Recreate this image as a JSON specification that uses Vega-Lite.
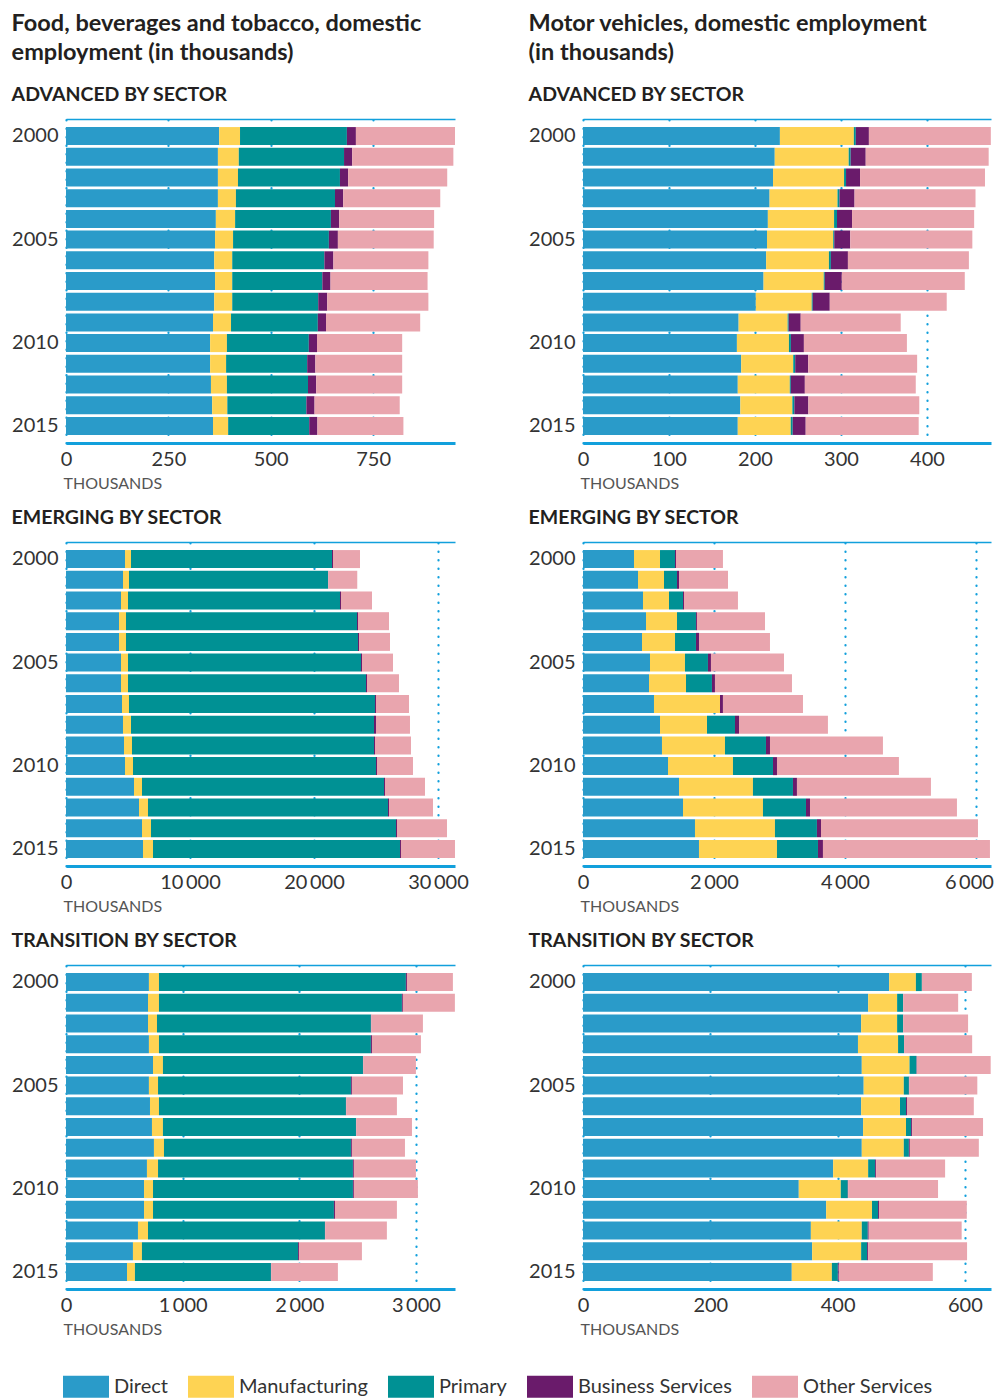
{
  "$schema": "https://vega.github.io/schema/vega-lite/v6.json",
  "background": "white",
  "padding": {"left": 11, "top": 12, "right": 0, "bottom": 0},
  "datasets": {
    "sectors": [
      {"sector": "Direct", "rank": 1},
      {"sector": "Manufacturing", "rank": 2},
      {"sector": "Primary", "rank": 3},
      {"sector": "Business Services", "rank": 4},
      {"sector": "Other Services", "rank": 5}
    ],
    "fa": [
      {"year": 2000, "Direct": 374, "Manufacturing": 51, "Primary": 261, "Business Services": 22, "Other Services": 242},
      {"year": 2001, "Direct": 371, "Manufacturing": 51, "Primary": 257, "Business Services": 20, "Other Services": 247},
      {"year": 2002, "Direct": 371, "Manufacturing": 49, "Primary": 249, "Business Services": 20, "Other Services": 242},
      {"year": 2003, "Direct": 371, "Manufacturing": 44, "Primary": 242, "Business Services": 20, "Other Services": 237},
      {"year": 2004, "Direct": 366, "Manufacturing": 47, "Primary": 234, "Business Services": 20, "Other Services": 232},
      {"year": 2005, "Direct": 364, "Manufacturing": 44, "Primary": 234, "Business Services": 22, "Other Services": 234},
      {"year": 2006, "Direct": 362, "Manufacturing": 44, "Primary": 225, "Business Services": 22, "Other Services": 232},
      {"year": 2007, "Direct": 364, "Manufacturing": 42, "Primary": 220, "Business Services": 20, "Other Services": 237},
      {"year": 2008, "Direct": 362, "Manufacturing": 44, "Primary": 210, "Business Services": 22, "Other Services": 247},
      {"year": 2009, "Direct": 359, "Manufacturing": 44, "Primary": 212, "Business Services": 20, "Other Services": 230},
      {"year": 2010, "Direct": 352, "Manufacturing": 41, "Primary": 200, "Business Services": 20, "Other Services": 208},
      {"year": 2011, "Direct": 352, "Manufacturing": 39, "Primary": 198, "Business Services": 20, "Other Services": 212},
      {"year": 2012, "Direct": 354, "Manufacturing": 39, "Primary": 198, "Business Services": 20, "Other Services": 210},
      {"year": 2013, "Direct": 357, "Manufacturing": 37, "Primary": 193, "Business Services": 20, "Other Services": 208},
      {"year": 2014, "Direct": 359, "Manufacturing": 37, "Primary": 198, "Business Services": 20, "Other Services": 210}
    ],
    "ma": [
      {"year": 2000, "Direct": 229, "Manufacturing": 86, "Primary": 2.3, "Business Services": 15.2, "Other Services": 141.8},
      {"year": 2001, "Direct": 223, "Manufacturing": 86, "Primary": 2.3, "Business Services": 17.5, "Other Services": 143},
      {"year": 2002, "Direct": 221, "Manufacturing": 82.6, "Primary": 2.3, "Business Services": 16.3, "Other Services": 145.3},
      {"year": 2003, "Direct": 217, "Manufacturing": 79, "Primary": 2.3, "Business Services": 17.5, "Other Services": 140.7},
      {"year": 2004, "Direct": 215, "Manufacturing": 77, "Primary": 3.4, "Business Services": 17.5, "Other Services": 142},
      {"year": 2005, "Direct": 214, "Manufacturing": 77, "Primary": 1.2, "Business Services": 18.6, "Other Services": 142},
      {"year": 2006, "Direct": 213, "Manufacturing": 73, "Primary": 2.3, "Business Services": 19.8, "Other Services": 140.7},
      {"year": 2007, "Direct": 210, "Manufacturing": 70, "Primary": 1.2, "Business Services": 19.8, "Other Services": 143},
      {"year": 2008, "Direct": 201, "Manufacturing": 65, "Primary": 1.2, "Business Services": 19.8, "Other Services": 136},
      {"year": 2009, "Direct": 181, "Manufacturing": 57, "Primary": 1.2, "Business Services": 14, "Other Services": 116.3},
      {"year": 2010, "Direct": 179, "Manufacturing": 60.5, "Primary": 2.3, "Business Services": 15.1, "Other Services": 119.8},
      {"year": 2011, "Direct": 184, "Manufacturing": 60.5, "Primary": 2.3, "Business Services": 15.1, "Other Services": 126.7},
      {"year": 2012, "Direct": 180, "Manufacturing": 60.5, "Primary": 1.2, "Business Services": 16.3, "Other Services": 129},
      {"year": 2013, "Direct": 183, "Manufacturing": 60.5, "Primary": 2.3, "Business Services": 16.3, "Other Services": 129},
      {"year": 2014, "Direct": 180, "Manufacturing": 61.6, "Primary": 2.3, "Business Services": 15.1, "Other Services": 131.4}
    ],
    "fe": [
      {"year": 2000, "Direct": 4758, "Manufacturing": 484, "Primary": 16210, "Business Services": 79, "Other Services": 2179},
      {"year": 2001, "Direct": 4597, "Manufacturing": 484, "Primary": 16048, "Business Services": 20, "Other Services": 2339},
      {"year": 2002, "Direct": 4435, "Manufacturing": 565, "Primary": 17096, "Business Services": 80, "Other Services": 2500},
      {"year": 2003, "Direct": 4274, "Manufacturing": 564, "Primary": 18629, "Business Services": 80, "Other Services": 2500},
      {"year": 2004, "Direct": 4274, "Manufacturing": 564, "Primary": 18709, "Business Services": 81, "Other Services": 2499},
      {"year": 2005, "Direct": 4435, "Manufacturing": 565, "Primary": 18789, "Business Services": 80, "Other Services": 2500},
      {"year": 2006, "Direct": 4435, "Manufacturing": 565, "Primary": 19192, "Business Services": 81, "Other Services": 2580},
      {"year": 2007, "Direct": 4516, "Manufacturing": 564, "Primary": 19838, "Business Services": 80, "Other Services": 2662},
      {"year": 2008, "Direct": 4596, "Manufacturing": 646, "Primary": 19595, "Business Services": 161, "Other Services": 2742},
      {"year": 2009, "Direct": 4677, "Manufacturing": 645, "Primary": 19515, "Business Services": 81, "Other Services": 2903},
      {"year": 2010, "Direct": 4758, "Manufacturing": 645, "Primary": 19595, "Business Services": 81, "Other Services": 2903},
      {"year": 2011, "Direct": 5484, "Manufacturing": 645, "Primary": 19515, "Business Services": 80, "Other Services": 3226},
      {"year": 2012, "Direct": 5887, "Manufacturing": 725, "Primary": 19354, "Business Services": 81, "Other Services": 3548},
      {"year": 2013, "Direct": 6129, "Manufacturing": 725, "Primary": 19757, "Business Services": 81, "Other Services": 4032},
      {"year": 2014, "Direct": 6209, "Manufacturing": 807, "Primary": 19918, "Business Services": 80, "Other Services": 4355}
    ],
    "me": [
      {"year": 2000, "Direct": 779, "Manufacturing": 397, "Primary": 229, "Business Services": 15, "Other Services": 717},
      {"year": 2001, "Direct": 840, "Manufacturing": 397, "Primary": 198, "Business Services": 31, "Other Services": 748},
      {"year": 2002, "Direct": 916, "Manufacturing": 397, "Primary": 214, "Business Services": 15, "Other Services": 824},
      {"year": 2003, "Direct": 962, "Manufacturing": 473, "Primary": 290, "Business Services": 15, "Other Services": 1039},
      {"year": 2004, "Direct": 901, "Manufacturing": 504, "Primary": 320, "Business Services": 46, "Other Services": 1084},
      {"year": 2005, "Direct": 1023, "Manufacturing": 534, "Primary": 351, "Business Services": 46, "Other Services": 1115},
      {"year": 2006, "Direct": 1008, "Manufacturing": 565, "Primary": 396, "Business Services": 46, "Other Services": 1176},
      {"year": 2007, "Direct": 1084, "Manufacturing": 1008, "Primary": 0, "Business Services": 45, "Other Services": 1222},
      {"year": 2008, "Direct": 1176, "Manufacturing": 717, "Primary": 428, "Business Services": 61, "Other Services": 1358},
      {"year": 2009, "Direct": 1206, "Manufacturing": 962, "Primary": 626, "Business Services": 61, "Other Services": 1725},
      {"year": 2010, "Direct": 1298, "Manufacturing": 992, "Primary": 611, "Business Services": 61, "Other Services": 1862},
      {"year": 2011, "Direct": 1466, "Manufacturing": 1129, "Primary": 611, "Business Services": 61, "Other Services": 2046},
      {"year": 2012, "Direct": 1527, "Manufacturing": 1221, "Primary": 657, "Business Services": 61, "Other Services": 2244},
      {"year": 2013, "Direct": 1710, "Manufacturing": 1221, "Primary": 641, "Business Services": 62, "Other Services": 2397},
      {"year": 2014, "Direct": 1771, "Manufacturing": 1191, "Primary": 626, "Business Services": 76, "Other Services": 2550}
    ],
    "ft": [
      {"year": 2000, "Direct": 711, "Manufacturing": 86, "Primary": 2117, "Business Services": 9, "Other Services": 394},
      {"year": 2001, "Direct": 703, "Manufacturing": 94, "Primary": 2083, "Business Services": 8, "Other Services": 446},
      {"year": 2002, "Direct": 703, "Manufacturing": 77, "Primary": 1834, "Business Services": 3, "Other Services": 443},
      {"year": 2003, "Direct": 711, "Manufacturing": 86, "Primary": 1817, "Business Services": 9, "Other Services": 420},
      {"year": 2004, "Direct": 746, "Manufacturing": 85, "Primary": 1715, "Business Services": 2, "Other Services": 452},
      {"year": 2005, "Direct": 711, "Manufacturing": 78, "Primary": 1654, "Business Services": 8, "Other Services": 438},
      {"year": 2006, "Direct": 720, "Manufacturing": 77, "Primary": 1603, "Business Services": 2, "Other Services": 435},
      {"year": 2007, "Direct": 737, "Manufacturing": 94, "Primary": 1655, "Business Services": 2, "Other Services": 478},
      {"year": 2008, "Direct": 754, "Manufacturing": 86, "Primary": 1603, "Business Services": 8, "Other Services": 455},
      {"year": 2009, "Direct": 694, "Manufacturing": 95, "Primary": 1671, "Business Services": 8, "Other Services": 532},
      {"year": 2010, "Direct": 669, "Manufacturing": 77, "Primary": 1714, "Business Services": 8, "Other Services": 549},
      {"year": 2011, "Direct": 669, "Manufacturing": 77, "Primary": 1551, "Business Services": 9, "Other Services": 531},
      {"year": 2012, "Direct": 617, "Manufacturing": 86, "Primary": 1517, "Business Services": 2, "Other Services": 529},
      {"year": 2013, "Direct": 574, "Manufacturing": 77, "Primary": 1338, "Business Services": 8, "Other Services": 540},
      {"year": 2014, "Direct": 523, "Manufacturing": 68, "Primary": 1166, "Business Services": 2, "Other Services": 572}
    ],
    "mt": [
      {"year": 2000, "Direct": 481, "Manufacturing": 42, "Primary": 9.4, "Business Services": 0, "Other Services": 78.5},
      {"year": 2001, "Direct": 448, "Manufacturing": 45.5, "Primary": 9.5, "Business Services": 0, "Other Services": 86.4},
      {"year": 2002, "Direct": 437, "Manufacturing": 56.5, "Primary": 9.5, "Business Services": 0, "Other Services": 102},
      {"year": 2003, "Direct": 432, "Manufacturing": 63, "Primary": 9.4, "Business Services": 0, "Other Services": 107},
      {"year": 2004, "Direct": 438, "Manufacturing": 75, "Primary": 11, "Business Services": 0.5, "Other Services": 116},
      {"year": 2005, "Direct": 441, "Manufacturing": 63, "Primary": 8, "Business Services": 0.5, "Other Services": 107},
      {"year": 2006, "Direct": 437, "Manufacturing": 61, "Primary": 9.5, "Business Services": 1.5, "Other Services": 105},
      {"year": 2007, "Direct": 440, "Manufacturing": 67.5, "Primary": 8, "Business Services": 1.5, "Other Services": 111.5},
      {"year": 2008, "Direct": 438, "Manufacturing": 66, "Primary": 8, "Business Services": 1.5, "Other Services": 108.4},
      {"year": 2009, "Direct": 393, "Manufacturing": 55, "Primary": 11, "Business Services": 1.5, "Other Services": 108.4},
      {"year": 2010, "Direct": 339, "Manufacturing": 66, "Primary": 11, "Business Services": 0.5, "Other Services": 141.3},
      {"year": 2011, "Direct": 382, "Manufacturing": 72, "Primary": 9.5, "Business Services": 1.5, "Other Services": 138},
      {"year": 2012, "Direct": 358, "Manufacturing": 80, "Primary": 9.4, "Business Services": 1.5, "Other Services": 146},
      {"year": 2013, "Direct": 360, "Manufacturing": 77, "Primary": 9.4, "Business Services": 1.5, "Other Services": 155.5},
      {"year": 2014, "Direct": 328, "Manufacturing": 63, "Primary": 9.4, "Business Services": 1.5, "Other Services": 147.7}
    ]
  },
  "spacing": 59,
  "hconcat": [
    {
      "title": {"text": ["Food, beverages and tobacco, domestic", "employment (in thousands)"], "fontSize": 23.5, "lineHeight": 29, "offset": 20},
      "spacing": 16,
      "vconcat": [
        {
          "title": {"text": "ADVANCED BY SECTOR"},
          "width": 389, "height": 324,
          "data": {"name": "fa"},
          "transform": [
            {"fold": ["Direct", "Manufacturing", "Primary", "Business Services", "Other Services"], "as": ["sector", "v"]},
            {"lookup": "sector", "from": {"data": {"name": "sectors"}, "key": "sector", "fields": ["rank"]}}
          ],
          "resolve": {"axis": {"x": "independent"}},
          "layer": [
            {
              "mark": {"type": "bar"},
              "encoding": {
                "y": {"field": "year", "type": "ordinal", "scale": {"paddingInner": 0.13, "paddingOuter": 0.39}, "axis": {"values": [2000, 2005, 2010, 2014], "labelExpr": "datum.value == 2014 ? '2015' : datum.label", "title": null}},
                "x": {"field": "v", "type": "quantitative", "stack": "zero", "scale": {"domain": [0, 950], "nice": false}, "axis": {"orient": "bottom", "values": [0, 250, 500, 750], "title": "THOUSANDS", "grid": true}},
                "fill": {"field": "sector", "type": "nominal", "scale": {"domain": ["Direct", "Manufacturing", "Primary", "Business Services", "Other Services"], "range": ["#2a9bc9", "#fed353", "#009194", "#6a1b6b", "#e9a5ae"]},
                  "legend": {"title": null, "orient": "none", "legendX": -3, "legendY": 1256, "padding": 0, "direction": "horizontal", "columns": 5, "symbolType": "M-2,-0.956H2V0.956H-2Z", "symbolSize": 529, "symbolOffset": 11.5, "symbolStrokeWidth": 0, "labelFontSize": 20, "labelFont": "Lato", "labelColor": "#333333", "labelOffset": 16.5, "labelLimit": 400, "columnPadding": 20,
                    "encode": {"symbols": {"update": {"fill": [{"test": "datum.value === 'Direct'", "value": "#0068b2"}, {"scale": "fill", "field": "value"}], "opacity": {"value": 1}}}}}},
                "order": {"field": "rank", "type": "quantitative"}
              }
            },
            {
              "mark": {"type": "point", "size": 0, "filled": true, "strokeWidth": 0},
              "encoding": {
                "x": {"field": "v", "type": "quantitative", "scale": {"domain": [0, 950], "nice": false}, "axis": {"orient": "top", "labels": false, "ticks": false, "grid": false, "title": null, "domainWidth": 1.5}}
              }
            }
          ]
        },
        {
          "title": {"text": "EMERGING BY SECTOR"},
          "width": 389, "height": 324,
          "data": {"name": "fe"},
          "transform": [
            {"fold": ["Direct", "Manufacturing", "Primary", "Business Services", "Other Services"], "as": ["sector", "v"]},
            {"lookup": "sector", "from": {"data": {"name": "sectors"}, "key": "sector", "fields": ["rank"]}}
          ],
          "resolve": {"axis": {"x": "independent"}},
          "layer": [
            {
              "mark": {"type": "bar"},
              "encoding": {
                "y": {"field": "year", "type": "ordinal", "scale": {"paddingInner": 0.13, "paddingOuter": 0.39}, "axis": {"values": [2000, 2005, 2010, 2014], "labelExpr": "datum.value == 2014 ? '2015' : datum.label", "title": null}},
                "x": {"field": "v", "type": "quantitative", "stack": "zero", "scale": {"domain": [0, 31370], "nice": false}, "axis": {"orient": "bottom", "values": [0, 10000, 20000, 30000], "labelExpr": "replace(format(datum.value, ','), ',', '\u2009')", "title": "THOUSANDS", "grid": true}},
                "fill": {"field": "sector", "type": "nominal", "scale": {"domain": ["Direct", "Manufacturing", "Primary", "Business Services", "Other Services"], "range": ["#2a9bc9", "#fed353", "#009194", "#6a1b6b", "#e9a5ae"]}},
                "order": {"field": "rank", "type": "quantitative"}
              }
            },
            {
              "mark": {"type": "point", "size": 0, "filled": true, "strokeWidth": 0},
              "encoding": {
                "x": {"field": "v", "type": "quantitative", "scale": {"domain": [0, 31370], "nice": false}, "axis": {"orient": "top", "labels": false, "ticks": false, "grid": false, "title": null, "domainWidth": 1.5}}
              }
            }
          ]
        },
        {
          "title": {"text": "TRANSITION BY SECTOR"},
          "width": 389, "height": 324,
          "data": {"name": "ft"},
          "transform": [
            {"fold": ["Direct", "Manufacturing", "Primary", "Business Services", "Other Services"], "as": ["sector", "v"]},
            {"lookup": "sector", "from": {"data": {"name": "sectors"}, "key": "sector", "fields": ["rank"]}}
          ],
          "resolve": {"axis": {"x": "independent"}},
          "layer": [
            {
              "mark": {"type": "bar"},
              "encoding": {
                "y": {"field": "year", "type": "ordinal", "scale": {"paddingInner": 0.13, "paddingOuter": 0.39}, "axis": {"values": [2000, 2005, 2010, 2014], "labelExpr": "datum.value == 2014 ? '2015' : datum.label", "title": null}},
                "x": {"field": "v", "type": "quantitative", "stack": "zero", "scale": {"domain": [0, 3335], "nice": false}, "axis": {"orient": "bottom", "values": [0, 1000, 2000, 3000], "labelExpr": "replace(format(datum.value, ','), ',', '\u2009')", "title": "THOUSANDS", "grid": true}},
                "fill": {"field": "sector", "type": "nominal", "scale": {"domain": ["Direct", "Manufacturing", "Primary", "Business Services", "Other Services"], "range": ["#2a9bc9", "#fed353", "#009194", "#6a1b6b", "#e9a5ae"]}},
                "order": {"field": "rank", "type": "quantitative"}
              }
            },
            {
              "mark": {"type": "point", "size": 0, "filled": true, "strokeWidth": 0},
              "encoding": {
                "x": {"field": "v", "type": "quantitative", "scale": {"domain": [0, 3335], "nice": false}, "axis": {"orient": "top", "labels": false, "ticks": false, "grid": false, "title": null, "domainWidth": 1.5}}
              }
            }
          ]
        }
      ]
    },
    {
      "title": {"text": ["Motor vehicles, domestic employment", "(in thousands)"], "fontSize": 23.5, "lineHeight": 29, "offset": 20},
      "spacing": 16,
      "vconcat": [
        {
          "title": {"text": "ADVANCED BY SECTOR"},
          "width": 408, "height": 324,
          "data": {"name": "ma"},
          "transform": [
            {"fold": ["Direct", "Manufacturing", "Primary", "Business Services", "Other Services"], "as": ["sector", "v"]},
            {"lookup": "sector", "from": {"data": {"name": "sectors"}, "key": "sector", "fields": ["rank"]}}
          ],
          "resolve": {"axis": {"x": "independent"}},
          "layer": [
            {
              "mark": {"type": "bar"},
              "encoding": {
                "y": {"field": "year", "type": "ordinal", "scale": {"paddingInner": 0.13, "paddingOuter": 0.39}, "axis": {"values": [2000, 2005, 2010, 2014], "labelExpr": "datum.value == 2014 ? '2015' : datum.label", "title": null}},
                "x": {"field": "v", "type": "quantitative", "stack": "zero", "scale": {"domain": [0, 474.5], "nice": false}, "axis": {"orient": "bottom", "values": [0, 100, 200, 300, 400], "title": "THOUSANDS", "grid": true}},
                "fill": {"field": "sector", "type": "nominal", "scale": {"domain": ["Direct", "Manufacturing", "Primary", "Business Services", "Other Services"], "range": ["#2a9bc9", "#fed353", "#009194", "#6a1b6b", "#e9a5ae"]}},
                "order": {"field": "rank", "type": "quantitative"}
              }
            },
            {
              "mark": {"type": "point", "size": 0, "filled": true, "strokeWidth": 0},
              "encoding": {
                "x": {"field": "v", "type": "quantitative", "scale": {"domain": [0, 474.5], "nice": false}, "axis": {"orient": "top", "labels": false, "ticks": false, "grid": false, "title": null, "domainWidth": 1.5}}
              }
            }
          ]
        },
        {
          "title": {"text": "EMERGING BY SECTOR"},
          "width": 408, "height": 324,
          "data": {"name": "me"},
          "transform": [
            {"fold": ["Direct", "Manufacturing", "Primary", "Business Services", "Other Services"], "as": ["sector", "v"]},
            {"lookup": "sector", "from": {"data": {"name": "sectors"}, "key": "sector", "fields": ["rank"]}}
          ],
          "resolve": {"axis": {"x": "independent"}},
          "layer": [
            {
              "mark": {"type": "bar"},
              "encoding": {
                "y": {"field": "year", "type": "ordinal", "scale": {"paddingInner": 0.13, "paddingOuter": 0.39}, "axis": {"values": [2000, 2005, 2010, 2014], "labelExpr": "datum.value == 2014 ? '2015' : datum.label", "title": null}},
                "x": {"field": "v", "type": "quantitative", "stack": "zero", "scale": {"domain": [0, 6230], "nice": false}, "axis": {"orient": "bottom", "values": [0, 2000, 4000, 6000], "labelExpr": "replace(format(datum.value, ','), ',', '\u2009')", "labelOffset": {"condition": {"test": "datum.value == 6000", "value": -7}, "value": 0}, "title": "THOUSANDS", "grid": true}},
                "fill": {"field": "sector", "type": "nominal", "scale": {"domain": ["Direct", "Manufacturing", "Primary", "Business Services", "Other Services"], "range": ["#2a9bc9", "#fed353", "#009194", "#6a1b6b", "#e9a5ae"]}},
                "order": {"field": "rank", "type": "quantitative"}
              }
            },
            {
              "mark": {"type": "point", "size": 0, "filled": true, "strokeWidth": 0},
              "encoding": {
                "x": {"field": "v", "type": "quantitative", "scale": {"domain": [0, 6230], "nice": false}, "axis": {"orient": "top", "labels": false, "ticks": false, "grid": false, "title": null, "domainWidth": 1.5}}
              }
            }
          ]
        },
        {
          "title": {"text": "TRANSITION BY SECTOR"},
          "width": 408, "height": 324,
          "data": {"name": "mt"},
          "transform": [
            {"fold": ["Direct", "Manufacturing", "Primary", "Business Services", "Other Services"], "as": ["sector", "v"]},
            {"lookup": "sector", "from": {"data": {"name": "sectors"}, "key": "sector", "fields": ["rank"]}}
          ],
          "resolve": {"axis": {"x": "independent"}},
          "layer": [
            {
              "mark": {"type": "bar"},
              "encoding": {
                "y": {"field": "year", "type": "ordinal", "scale": {"paddingInner": 0.13, "paddingOuter": 0.39}, "axis": {"values": [2000, 2005, 2010, 2014], "labelExpr": "datum.value == 2014 ? '2015' : datum.label", "title": null}},
                "x": {"field": "v", "type": "quantitative", "stack": "zero", "scale": {"domain": [0, 641], "nice": false}, "axis": {"orient": "bottom", "values": [0, 200, 400, 600], "title": "THOUSANDS", "grid": true}},
                "fill": {"field": "sector", "type": "nominal", "scale": {"domain": ["Direct", "Manufacturing", "Primary", "Business Services", "Other Services"], "range": ["#2a9bc9", "#fed353", "#009194", "#6a1b6b", "#e9a5ae"]}},
                "order": {"field": "rank", "type": "quantitative"}
              }
            },
            {
              "mark": {"type": "point", "size": 0, "filled": true, "strokeWidth": 0},
              "encoding": {
                "x": {"field": "v", "type": "quantitative", "scale": {"domain": [0, 641], "nice": false}, "axis": {"orient": "top", "labels": false, "ticks": false, "grid": false, "title": null, "domainWidth": 1.5}}
              }
            }
          ]
        }
      ]
    }
  ],
  "config": {
    "font": "Lato",
    "view": {"stroke": null},
    "title": {"anchor": "start", "frame": "bounds", "font": "Lato", "fontSize": 19.5, "fontWeight": "bold", "color": "#231f20", "offset": 14},
    "axis": {"labelFont": "Lato", "labelFontSize": 20, "labelColor": "#333333", "titleFont": "Lato"},
    "axisY": {"domain": false, "ticks": false, "grid": false, "labelPadding": 8},
    "axisX": {"domainColor": "#12a0dc", "ticks": false, "labelFlush": false, "labelPadding": 6, "gridColor": "#12a0dc", "gridDash": [0.5, 8], "gridWidth": 2.2, "gridCap": "round"},
    "axisBottom": {"domainWidth": 3, "titleFontSize": 16, "titleFontWeight": "normal", "titleColor": "#555555", "titleAnchor": "start", "titleAlign": "left", "titlePadding": 6, "titleX": -3}
  }
}
